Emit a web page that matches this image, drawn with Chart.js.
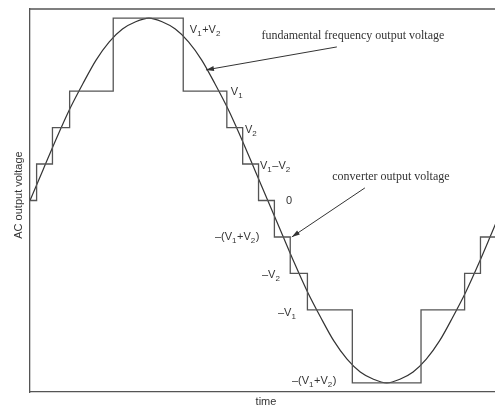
<!DOCTYPE html>
<html>
<head>
<meta charset="utf-8">
<script src="https://cdn.jsdelivr.net/npm/chart.js@4.4.1/dist/chart.umd.min.js"></script>
<style>
  html, body { margin: 0; padding: 0; background: #fff; }
  canvas { display: block; }
</style>
</head>
<body>
<canvas id="waveChart" width="495" height="408"></canvas>
<script>
// fundamental frequency output voltage, sampled every 10 degrees (per unit of V1+V2)
const sineTimes = [0, 10, 20, 30, 40, 50, 60, 70, 80, 90, 100, 110, 120, 130, 140, 150, 160, 170,
  180, 190, 200, 210, 220, 230, 240, 250, 260, 270, 280, 290, 300, 310, 320, 330, 340, 350, 360];
const sineValues = [0, 0.17, 0.34, 0.5, 0.64, 0.77, 0.87, 0.94, 0.98, 1, 0.98, 0.94, 0.87, 0.77, 0.64, 0.5, 0.34, 0.17,
  0, -0.17, -0.34, -0.5, -0.64, -0.77, -0.87, -0.94, -0.98, -1, -0.98, -0.94, -0.87, -0.77, -0.64, -0.5, -0.34, -0.17, 0];

// converter output voltage: level switches to stepLevels[i] at stepTimes[i]
const stepTimes = [0, 5, 17, 30, 63, 116, 149, 161, 173, 185, 197, 210, 244, 296, 329, 341, 360];
const stepLevels = [0, 0.2, 0.4, 0.6, 1, 0.6, 0.4, 0.2, 0, -0.2, -0.4, -0.6, -1, -0.6, -0.4, -0.2, -0.2];

const ink = '#333';
const sansFont = '"Liberation Sans", Arial, sans-serif';
const serifFont = '"Liberation Serif", "Times New Roman", serif';

// level labels, parts with a trailing true are subscripts
const levelLabels = [
  { at: [121, 0.918], parts: [['V'], ['1', true], ['+V'], ['2', true]] },
  { at: [152, 0.578], parts: [['V'], ['1', true]] },
  { at: [162.7, 0.37], parts: [['V'], ['2', true]] },
  { at: [174.1, 0.173], parts: [['V'], ['1', true], ['\u2013V'], ['2', true]] },
  { at: [193.7, -0.019], parts: [['0']] },
  { at: [140, -0.217], parts: [['\u2013(V'], ['1', true], ['+V'], ['2', true], [')']] },
  { at: [175.6, -0.425], parts: [['\u2013V'], ['2', true]] },
  { at: [187.7, -0.633], parts: [['\u2013V'], ['1', true]] },
  { at: [198.3, -1.006], parts: [['\u2013(V'], ['1', true], ['+V'], ['2', true], [')']] }
];

const callouts = [
  { text: 'fundamental frequency output voltage', at: [244.4, 0.885], from: [232.3, 0.842], tip: [133.2, 0.716] },
  { text: 'converter output voltage', at: [273.2, 0.112], from: [253.5, 0.069], tip: [198.2, -0.2] }
];

function drawParts(ctx, parts, x, y) {
  parts.forEach(function (p) {
    ctx.font = p[1] ? '8px ' + sansFont : '11px ' + sansFont;
    const dy = p[1] ? 3 : 0;
    ctx.fillText(p[0], x, y + dy);
    x += ctx.measureText(p[0]).width + (p[1] ? 0.5 : 0);
  });
}

const annotate = {
  id: 'annotate',
  afterDraw(chart) {
    const ctx = chart.ctx;
    const area = chart.chartArea;
    const xs = chart.scales.x;
    const ys = chart.scales.y;
    const px = function (p) { return [xs.getPixelForValue(p[0]), ys.getPixelForValue(p[1])]; };

    ctx.save();
    // top frame line
    ctx.strokeStyle = '#555';
    ctx.lineWidth = 1.3;
    ctx.beginPath();
    ctx.moveTo(area.left, area.top);
    ctx.lineTo(area.right, area.top);
    ctx.stroke();

    ctx.fillStyle = ink;
    ctx.textBaseline = 'alphabetic';
    ctx.textAlign = 'left';
    levelLabels.forEach(function (l) {
      const p = px(l.at);
      drawParts(ctx, l.parts, p[0], p[1]);
    });

    callouts.forEach(function (c) {
      const t = px(c.at);
      ctx.font = '12px ' + serifFont;
      ctx.textAlign = 'center';
      ctx.fillText(c.text, t[0], t[1]);
      const a = px(c.from);
      const b = px(c.tip);
      ctx.strokeStyle = ink;
      ctx.lineWidth = 1;
      ctx.beginPath();
      ctx.moveTo(a[0], a[1]);
      ctx.lineTo(b[0], b[1]);
      ctx.stroke();
      const ang = Math.atan2(b[1] - a[1], b[0] - a[0]);
      ctx.beginPath();
      ctx.moveTo(b[0], b[1]);
      ctx.lineTo(b[0] - 8 * Math.cos(ang) + 2.5 * Math.sin(ang), b[1] - 8 * Math.sin(ang) - 2.5 * Math.cos(ang));
      ctx.lineTo(b[0] - 8 * Math.cos(ang) - 2.5 * Math.sin(ang), b[1] - 8 * Math.sin(ang) + 2.5 * Math.cos(ang));
      ctx.closePath();
      ctx.fill();
    });

    // axis titles
    ctx.font = '11px ' + sansFont;
    ctx.textAlign = 'center';
    ctx.textBaseline = 'middle';
    ctx.fillText('time', 266, 402);
    ctx.translate(19, 195);
    ctx.rotate(-Math.PI / 2);
    ctx.fillText('AC output voltage', 0, 0);
    ctx.restore();
  }
};

new Chart(document.getElementById('waveChart').getContext('2d'), {
  type: 'line',
  data: {
    datasets: [
      {
        label: 'converter output voltage',
        data: stepTimes.map(function (t, i) { return { x: t, y: stepLevels[i] }; }),
        stepped: 'before',
        borderColor: '#555',
        borderWidth: 1.3,
        pointRadius: 0,
        fill: false
      },
      {
        label: 'fundamental frequency output voltage',
        data: sineTimes.map(function (t, i) { return { x: t, y: sineValues[i] }; }),
        cubicInterpolationMode: 'monotone',
        borderColor: '#333',
        borderWidth: 1.2,
        pointRadius: 0,
        fill: false
      }
    ]
  },
  options: {
    responsive: false,
    animation: false,
    devicePixelRatio: 1,
    layout: { padding: { left: 30, top: 9, right: 0, bottom: 16 } },
    plugins: { legend: { display: false }, tooltip: { enabled: false } },
    scales: {
      x: {
        type: 'linear',
        min: 0,
        max: 352,
        ticks: { display: false },
        grid: { display: false, drawTicks: false },
        border: { display: true, color: '#555', width: 1.3 }
      },
      y: {
        min: -1.05,
        max: 1.05,
        ticks: { display: false },
        grid: { display: false, drawTicks: false },
        border: { display: true, color: '#555', width: 1.3 }
      }
    }
  },
  plugins: [annotate]
});
</script>
</body>
</html>
